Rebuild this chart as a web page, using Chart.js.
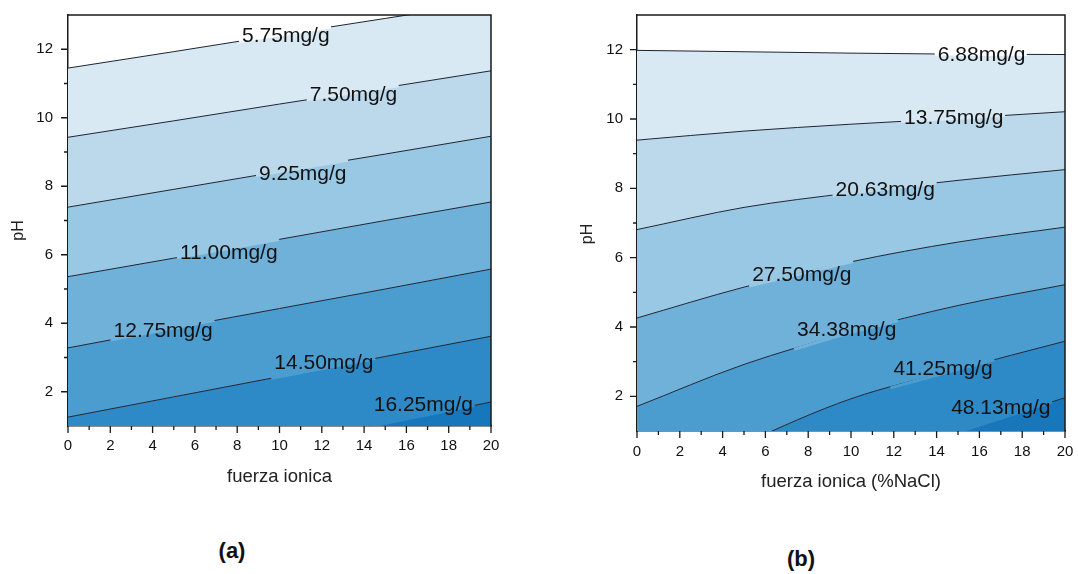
<!DOCTYPE html>
<html>
<head>
<meta charset="utf-8">
<script src="https://cdn.jsdelivr.net/npm/chart.js@4.4.1/dist/chart.umd.min.js"></script>
<style>
  body { margin: 0; background: #fff; width: 1078px; height: 574px; position: relative; overflow: hidden; font-family: "Liberation Sans", Arial, sans-serif; }
  canvas { position: absolute; top: 0; }
  #chartA { left: 0; }
  #chartB { left: 560px; }
  .tag { position: absolute; font-weight: bold; font-size: 22px; color: #111; transform: translate(-50%, -50%); }
</style>
</head>
<body>
<canvas id="chartA" width="520" height="500"></canvas>
<canvas id="chartB" width="518" height="500"></canvas>
<div class="tag" style="left:232px;top:551px">(a)</div>
<div class="tag" style="left:801px;top:559px">(b)</div>

<script>
    const fuerza = [0, 5, 10, 15, 20];

    const xTicks = [0, 2, 4, 6, 8, 10, 12, 14, 16, 18, 20];
    const xMinor = [1, 3, 5, 7, 9, 11, 13, 15, 17, 19];
    const yTicks = [2, 4, 6, 8, 10, 12];
    const yMinor = [3, 5, 7, 9, 11];

    // panel (a): pH of each contour at fuerza = 0,5,10,15,20
    const levelsA = ['5.75mg/g', '7.50mg/g', '9.25mg/g', '11.00mg/g', '12.75mg/g', '14.50mg/g', '16.25mg/g'];
    const a575  = [11.45, 11.93, 12.42, 12.90, 13.38];
    const a750  = [9.43, 9.91, 10.40, 10.88, 11.37];
    const a925  = [7.39, 7.91, 8.43, 8.94, 9.46];
    const a1100 = [5.36, 5.90, 6.45, 7.00, 7.54];
    const a1275 = [3.28, 3.86, 4.43, 5.00, 5.58];
    const a1450 = [1.26, 1.85, 2.44, 3.03, 3.62];
    const a1625 = [-0.78, -0.16, 0.46, 1.08, 1.70];
    const labelXA = [10.3, 13.5, 11.1, 7.6, 4.5, 12.1, 16.8];
    const labelYA = [12.38, 10.66, 8.35, 6.04, 3.77, 2.84, 1.62];

    // panel (b)
    const levelsB = ['6.88mg/g', '13.75mg/g', '20.63mg/g', '27.50mg/g', '34.38mg/g', '41.25mg/g', '48.13mg/g'];
    const b688  = [11.98, 11.94, 11.90, 11.87, 11.86];
    const b1375 = [9.39, 9.65, 9.85, 10.02, 10.21];
    const b2063 = [6.81, 7.45, 7.87, 8.23, 8.54];
    const b2750 = [4.26, 5.15, 5.88, 6.45, 6.88];
    const b3438 = [1.71, 2.92, 3.85, 4.62, 5.22];
    const b4125 = [-1.0, 0.62, 1.93, 2.78, 3.59];
    const b4813 = [-2.9, -1.4, -0.1, 0.97, 1.96];
    const labelXB = [16.1, 14.8, 11.6, 7.7, 9.8, 14.3, 17.0];
    const labelYB = [11.83, 10.02, 7.94, 5.49, 3.91, 2.77, 1.66];

    const bandColors = ['#d9e9f4', '#bcd9ec', '#99c8e4', '#70b1da', '#4b9dd0', '#2e8ac7', '#1677bd'];
    const lineColor = '#1c2433';
    const fontFam = '"Liberation Sans", Arial, sans-serif';

    Chart.defaults.font.family = fontFam;

    const contourPlugin = {
        id: 'contour',
        afterDatasetsDraw(chart, args, opts) {
            const {ctx, chartArea: a} = chart;
            const xs = chart.scales.x, ys = chart.scales.y;
            ctx.save();

            // contour labels, with the line hidden under the text
            ctx.font = '21px ' + fontFam;
            ctx.textAlign = 'center';
            ctx.textBaseline = 'middle';
            opts.levels.forEach((txt, i) => {
                const cx = xs.getPixelForValue(opts.lx[i]);
                const cy = ys.getPixelForValue(opts.ly[i]);
                const w = ctx.measureText(txt).width;
                const pts = chart.getDatasetMeta(i).data;
                const yAt = px => {
                    for (let k = 1; k < pts.length; k++) {
                        if (px <= pts[k].x) {
                            const t = (px - pts[k - 1].x) / (pts[k].x - pts[k - 1].x);
                            return pts[k - 1].y + t * (pts[k].y - pts[k - 1].y);
                        }
                    }
                    return pts[pts.length - 1].y;
                };
                ctx.save();
                ctx.beginPath();
                ctx.rect(a.left, a.top, a.right - a.left, a.bottom - a.top);
                ctx.clip();
                ctx.strokeStyle = i === 0 ? '#ffffff' : bandColors[i - 1];
                ctx.lineWidth = 3;
                ctx.beginPath();
                for (let px = cx - w / 2 - 3; px <= cx + w / 2 + 3; px += 2) {
                    ctx.lineTo(px, yAt(px));
                }
                ctx.stroke();
                ctx.restore();
                ctx.fillStyle = '#111';
                ctx.fillText(txt, cx, cy);
            });

            // frame top and right
            ctx.strokeStyle = '#1a1a1a';
            ctx.lineWidth = 1.5;
            ctx.beginPath();
            ctx.moveTo(a.left, a.top);
            ctx.lineTo(a.right, a.top);
            ctx.lineTo(a.right, a.bottom);
            ctx.stroke();

            // major / minor ticks, outward
            ctx.lineWidth = 1.3;
            ctx.beginPath();
            xTicks.concat(xMinor).forEach(v => {
                const px = xs.getPixelForValue(v);
                const len = xTicks.includes(v) ? 7 : 4;
                ctx.moveTo(px, a.bottom);
                ctx.lineTo(px, a.bottom + len);
            });
            yTicks.concat(yMinor).forEach(v => {
                const py = ys.getPixelForValue(v);
                const len = yTicks.includes(v) ? 7 : 4;
                ctx.moveTo(a.left, py);
                ctx.lineTo(a.left - len, py);
            });
            ctx.stroke();

            // y title
            ctx.font = '16px ' + fontFam;
            ctx.fillStyle = '#222';
            ctx.translate(opts.titleX, (a.top + a.bottom) / 2 + opts.titleShift);
            ctx.rotate(-Math.PI / 2);
            ctx.fillText('pH', 0, 0);
            ctx.restore();
        }
    };

    function makeChart(id, lines, levels, lx, ly, xTitle, lay) {
        return new Chart(id, {
            type: 'line',
            data: {
                datasets: lines.map((vals, i) => ({
                    label: levels[i],
                    data: fuerza.map((f, k) => ({x: f, y: vals[k]})),
                    borderColor: lineColor,
                    borderWidth: 1,
                    pointRadius: 0,
                    cubicInterpolationMode: 'monotone',
                    backgroundColor: bandColors[i],
                    fill: i < lines.length - 1 ? '+1' : 'start'
                }))
            },
            options: {
                responsive: false,
                animation: false,
                layout: {padding: {top: lay.top, right: lay.right, left: 0, bottom: 0}},
                plugins: {
                    legend: {display: false},
                    tooltip: {enabled: false},
                    filler: {drawTime: 'beforeDatasetsDraw'},
                    contour: {levels: levels, lx: lx, ly: ly, titleX: lay.titleX, titleShift: lay.titleShift}
                },
                scales: {
                    x: {
                        type: 'linear', min: 0, max: 20,
                        afterBuildTicks: s => { s.ticks = xTicks.map(v => ({value: v})); },
                        afterFit: s => { s.height = lay.xH; s.paddingLeft = 0; s.paddingRight = 0; },
                        ticks: {font: {size: 15}, color: '#111', padding: lay.xPad, maxRotation: 0, autoSkip: false},
                        grid: {drawOnChartArea: false, drawTicks: false},
                        border: {color: '#1a1a1a', width: 1.5},
                        title: {display: true, text: xTitle, font: {size: 18.5}, color: '#222', padding: {top: 0, bottom: lay.xTitlePad}}
                    },
                    y: {
                        type: 'linear', min: 1, max: 13,
                        afterBuildTicks: s => { s.ticks = yTicks.map(v => ({value: v})); },
                        afterFit: s => { s.width = lay.yW; s.paddingTop = 0; s.paddingBottom = 0; },
                        ticks: {font: {size: 15}, color: '#111', padding: lay.yPad},
                        grid: {drawOnChartArea: false, drawTicks: false},
                        border: {color: '#1a1a1a', width: 1.5}
                    }
                }
            },
            plugins: [contourPlugin]
        });
    }

    makeChart('chartA', [a575, a750, a925, a1100, a1275, a1450, a1625], levelsA, labelXA, labelYA,
        'fuerza ionica', {top: 15, right: 29, yW: 68, xH: 74, xPad: 11, yPad: 15, xTitlePad: 12, titleX: 19, titleShift: 10});
    makeChart('chartB', [b688, b1375, b2063, b2750, b3438, b4125, b4813], levelsB, labelXB, labelYB,
        'fuerza ionica (%NaCl)', {top: 15, right: 13, yW: 77, xH: 69, xPad: 12, yPad: 14, xTitlePad: 7, titleX: 28, titleShift: 11});
</script>
</body>
</html>
